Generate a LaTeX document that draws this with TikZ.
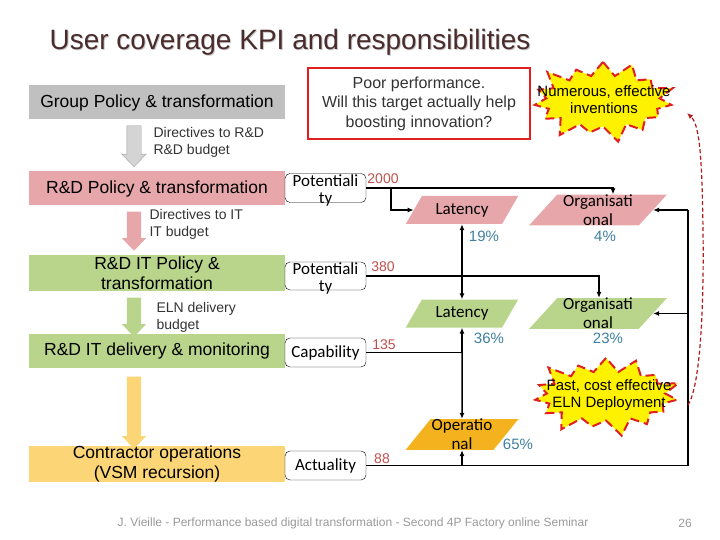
\documentclass[tikz,border=0pt]{standalone}
\usepackage{fontspec}
\setmainfont{Liberation Sans}
\newfontfamily\calfont{Carlito}
\usetikzlibrary{shapes.geometric,shapes.symbols,shapes.arrows,arrows.meta}

\definecolor{grpgray}{HTML}{C0C0C0}
\definecolor{rdpink}{HTML}{E6A6AA}
\definecolor{itgreen}{HTML}{B9D58B}
\definecolor{opyellow}{HTML}{FCD576}
\definecolor{oporange}{HTML}{F3B21E}
\definecolor{numred}{HTML}{C0504D}
\definecolor{pctblue}{HTML}{3F7FA0}
\definecolor{titlebrown}{HTML}{4B2C2C}
\definecolor{burstred}{HTML}{E02020}

\tikzset{
  unit/.style={minimum width=256pt, minimum height=34pt, inner sep=0pt, align=center,
    font=\fontsize{17.5}{20}\selectfont},
  flowarrow/.style={single arrow, rotate=-90, inner xsep=0pt, inner ysep=7pt,
    single arrow head extend=5pt, single arrow tip angle=88},
  side/.style={anchor=west, align=left, text=black!80, font=\fontsize{14}{17}\selectfont},
  kpibox/.style={draw, rounded corners=5pt, minimum width=81pt, minimum height=29pt, inner sep=0pt},
  kpitext/.style={font=\calfont\fontsize{17}{17}\selectfont, align=center, inner sep=0pt},
  para/.style={trapezium, trapezium left angle=52, trapezium right angle=128,
    trapezium stretches=true, minimum height=28pt, inner sep=0pt,
    font=\calfont\fontsize{17}{19}\selectfont, align=center},
  num/.style={text=numred, font=\fontsize{14}{16}\selectfont, inner sep=0pt},
  pct/.style={text=pctblue, font=\fontsize{15}{17}\selectfont, inner sep=0pt},
  link/.style={line width=1.5pt, -{Latex[length=6pt,width=5pt]}},
  burst/.style={starburst, starburst points=15, starburst point height=19pt, fill=yellow,
    draw=burstred, line width=2pt, dash pattern=on 9pt off 5pt, inner sep=0pt},
  bursttext/.style={align=center, font=\fontsize{15}{17}\selectfont, inner sep=0pt},
}

\begin{document}
\begin{tikzpicture}[x=1pt, y=-1pt]
\useasboundingbox (0,0) rectangle (720,540);

% title
\node[anchor=west, text=black!22, font=\fontsize{28}{32}\selectfont] (ttlshadow) at (47,43) {User coverage KPI and responsibilities};
\node[anchor=west, text=titlebrown, font=\fontsize{28}{32}\selectfont] (ttl) at (46,42) {User coverage KPI and responsibilities};

% responsibility units
\node[unit, fill=grpgray] (grp) at (157,102.5) {Group Policy \& transformation};
\node[unit, fill=rdpink] (rdp) at (157,188.5) {R\&D Policy \& transformation};
\node[unit, fill=itgreen, minimum height=36pt] (itp) at (157,273) {R\&D IT Policy \&\\transformation};
\node[unit, fill=itgreen] (itd) at (157,351) {R\&D IT delivery \& monitoring};
\node[unit, fill=opyellow] (con) at (157,464) {Contractor operations\\(VSM recursion)};

\node[flowarrow, fill=black!17, draw=black!38, minimum height=41pt] (ar1) at (134,142.5) {};
\node[flowarrow, fill=rdpink, minimum height=39pt] (ar2) at (134,227.5) {};
\node[flowarrow, fill=itgreen, minimum height=39pt] (ar3) at (134,313.5) {};
\node[flowarrow, fill=opyellow, minimum height=72pt] (ar4) at (134,409) {};

\node[side] (lb1) at (150,142.5) {Directives to R\&D\\R\&D budget};
\node[side] (lb2) at (146,224.5) {Directives to IT\\IT budget};
\node[side] (lb3) at (153,317.5) {ELN delivery\\budget};

% KPI boxes
\node[kpibox] (pot1) at (325.5,188) {};
\node[kpitext] (pot1t) at (325.5,190) {Potentiali\\ty};
\node[kpibox, minimum height=28pt] (pot2) at (325.5,276) {};
\node[kpitext] (pot2t) at (325.5,278) {Potentiali\\ty};
\node[kpibox] (cap) at (325.5,352.5) {};
\node[kpitext] (capt) at (325.5,352.5) {Capability};
\node[kpibox] (act) at (325.5,465.5) {};
\node[kpitext] (actt) at (325.5,465.5) {Actuality};

\node[num] (n2000) at (383,179) {2000};
\node[num] (n380) at (383,267) {380};
\node[num] (n135) at (384,345) {135};
\node[num] (n88) at (382,459) {88};

% ratios
\node[para, fill=rdpink, minimum width=113pt] (lat1) at (462,210) {Latency};
\node[para, fill=rdpink, minimum width=138pt] (org1) at (598,210) {Organisati\\onal};
\node[para, fill=itgreen, minimum width=113pt] (lat2) at (462,313.5) {Latency};
\node[para, fill=itgreen, minimum width=138pt] (org2) at (598,313.5) {Organisati\\onal};
\node[para, fill=oporange, minimum width=113pt, minimum height=29pt] (op) at (462,434.5) {Operatio\\nal};

\node[pct] (p19) at (484,236) {19\%};
\node[pct] (p4) at (605,236) {4\%};
\node[pct] (p36) at (489,338) {36\%};
\node[pct] (p23) at (608,338) {23\%};
\node[pct] (p65) at (518,444) {65\%};

% connectors
\coordinate (b1) at (391,188);
\draw[link] (pot1.east) -| ([xshift=15pt]org1.north);
\draw[link] (b1) |- (lat1.west);
\draw[line width=1.5pt, {Latex[length=6pt,width=5pt]}-{Latex[length=6pt,width=5pt]}] (lat1.south) -- (lat2.north);
\draw[link] (pot2.east) -| ([xshift=1pt]org2.north);
\coordinate (j1) at (cap.east -| lat2.south);
\draw[line width=1.5pt] (cap.east) -- (j1);
\draw[link] (j1) -- (lat2.south);
\draw[link] (j1) -- (op.north);
\coordinate (rc) at (688,465.5);
\draw[line width=1.5pt] (act.east) -- (rc) -- (rc |- org1.east);
\draw[link] (rc |- org1.east) -- (org1.east);
\draw[link] (rc |- org2.east) -- (org2.east);
\draw[link] (act.east -| op.south) -- (op.south);

% callouts
\node[draw=burstred, line width=2.5pt, minimum width=222pt, minimum height=71pt, align=center,
  text=black!80, font=\fontsize{16}{19.5}\selectfont] (poor) at (419,103.5)
  {Poor performance.\\Will this target actually help\\boosting innovation?};
\node[burst, minimum width=152pt, minimum height=89pt] (inv) at (603,101) {};
\node[bursttext] (invt) at (604,100) {Numerous, effective\\inventions};
\node[burst, minimum width=157pt, minimum height=87pt] (eln) at (606,396) {};
\node[bursttext] (elnt) at (609,395) {Fast, cost effective\\ELN Deployment};

\coordinate (e2) at (688,405);
\coordinate (e1) at (687,113);
\draw[burstred!80!black, line width=1.2pt, dash pattern=on 4pt off 2.5pt, -{Latex[length=6pt,width=5pt]}]
  (e2) .. controls (701,385) and (704,300) .. (703,230) .. controls (702,160) and (700,125) .. (e1);

% footer
\node[text=black!40, font=\fontsize{12}{14}\selectfont] (foot) at (353,523)
  {J. Vieille - Performance based digital transformation - Second 4P Factory online Seminar};
\node[text=black!40, font=\fontsize{12}{14}\selectfont] (pgno) at (685,523) {26};
\end{tikzpicture}
\end{document}
